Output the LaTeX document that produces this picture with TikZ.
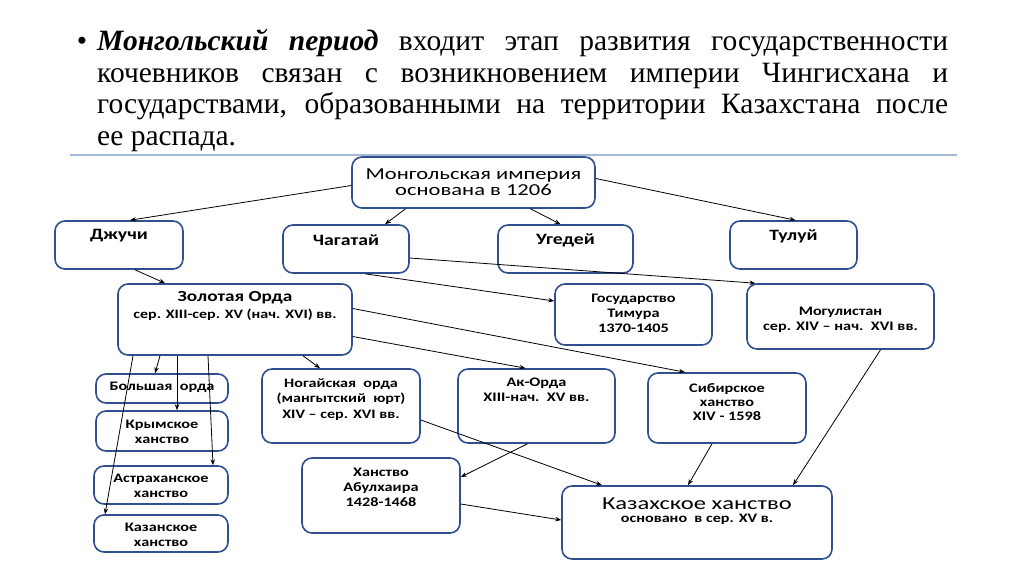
\documentclass[tikz,border=0pt]{standalone}
\usepackage{fontspec}
\setmainfont{Liberation Serif}
\newfontfamily\calfont[FakeStretch=1.25]{Carlito}
\newfontfamily\calwide[FakeStretch=1.35]{Carlito}
\usetikzlibrary{arrows.meta,calc}
\definecolor{boxblue}{HTML}{2F4F8F}
\definecolor{lineblue}{HTML}{A6BAD8}
\begin{document}
\begin{tikzpicture}[x=1pt,y=-1pt,
  box/.style={draw=boxblue, line width=1.6pt, rounded corners=10pt, fill=white, inner sep=0pt},
  lbl/.style={align=center, inner sep=0pt, font=\calfont\bfseries\fontsize{13}{15}\selectfont},
  hd/.style={lbl, font=\calfont\bfseries\fontsize{15.8}{16}\selectfont},
  arr/.style={-{Stealth[length=6pt,width=4.5pt]}, line width=0.8pt, black}]
\useasboundingbox (0,0) rectangle (1024,574);
\fill[white] (0,0) rectangle (1024,574);

% title text
\node[anchor=north west, inner sep=0pt, align=left, font=\fontsize{29.5}{31.5}\selectfont] (title) at (97,26.5)
{\rule{0pt}{24pt}\makebox[0pt][r]{•\hspace{10pt}}\makebox[851pt][s]{\textbf{\textit{Монгольский период}} входит этап развития государственности}\\
\makebox[851pt][s]{кочевников связан с возникновением империи Чингисхана и}\\
\makebox[851pt][s]{государствами, образованными на территории Казахстана после}\\
ее распада.};

\coordinate (tl1) at (70,155);
\coordinate (tl2) at (957,155);
\draw[lineblue, line width=2pt] (tl1) -- (tl2);

% boxes
\node[box, minimum width=243pt, minimum height=51pt] (mong) at (473.5,182.5) {};
\node[box, minimum width=128pt, minimum height=48pt] (dzh) at (119,245) {};
\node[box, minimum width=126pt, minimum height=48pt] (chag) at (346,249) {};
\node[box, minimum width=135pt, minimum height=48pt] (uged) at (565.5,249) {};
\node[box, minimum width=127pt, minimum height=48pt] (tul) at (793.5,245) {};
\node[box, minimum width=234pt, minimum height=71pt] (zol) at (235,319.5) {};
\node[box, minimum width=157pt, minimum height=61pt] (tim) at (633.5,314.5) {};
\node[box, minimum width=187pt, minimum height=65pt] (mog) at (840.5,316.5) {};
\node[box, minimum width=132pt, minimum height=29pt] (bol) at (162,388.5) {};
\node[box, minimum width=132pt, minimum height=40pt] (krym) at (162,431) {};
\node[box, minimum width=134pt, minimum height=38pt] (astr) at (161,485) {};
\node[box, minimum width=134pt, minimum height=37pt] (kaz) at (161,533.5) {};
\node[box, minimum width=158pt, minimum height=74pt] (nog) at (341,406) {};
\node[box, minimum width=157pt, minimum height=74pt] (ak) at (536.5,406) {};
\node[box, minimum width=158pt, minimum height=70pt] (sib) at (727,408) {};
\node[box, minimum width=158pt, minimum height=75pt] (abul) at (381,495.5) {};
\node[box, minimum width=270pt, minimum height=73pt] (kzh) at (697,522.5) {};

% labels
\node[lbl, font=\calwide\fontsize{16.7}{16}\selectfont] (mongT) at (473.5,182.6) {Монгольская империя\\основана в 1206};
\node[hd] (dzhT) at (119,236) {Джучи};
\node[hd] (chagT) at (346,240) {Чагатай};
\node[hd] (ugedT) at (565.5,240) {Угедей};
\node[hd] (tulT) at (793.5,236) {Тулуй};
\node[hd, font=\calfont\bfseries\fontsize{15.4}{16}\selectfont] (zolT1) at (235,298) {Золотая Орда};
\node[lbl, font=\calfont\bfseries\fontsize{12.8}{15}\selectfont] (zolT2) at (235,315) {сер. XIII-сер. XV (нач. XVI) вв.};
\node[lbl] (timT) at (633.5,313) {Государство\\Тимура\\1370-1405};
\node[lbl] (mogT) at (840.5,319.5) {Могулистан\\сер. XIV – нач.\ \ XVI вв.};
\node[lbl] (bolT) at (162,387) {Большая\ \ орда};
\node[lbl] (krymT) at (162,432) {Крымское\\ханство};
\node[lbl] (astrT) at (161,486) {Астраханское\\ханство};
\node[lbl] (kazT) at (161,534.5) {Казанское\\ханство};
\node[lbl, font=\calfont\bfseries\fontsize{12.9}{15.5}\selectfont] (nogT) at (341,399.5) {Ногайская\ \ орда\\(мангытский\ \ юрт)\\XIV – сер. XVI вв.};
\node[lbl] (akT) at (536.5,390) {Ак-Орда\\XIII-нач.\ \ XV вв.};
\node[lbl, font=\calfont\bfseries\fontsize{13}{14}\selectfont] (sibT) at (727,402) {Сибирское\\ханство\\XIV - 1598};
\node[lbl] (abulT) at (381,487.5) {Ханство\\Абулхаира\\1428-1468};
\node[lbl, font=\calwide\fontsize{18.2}{18}\selectfont] (kzhT1) at (697,503.5) {Казахское ханство};
\node[lbl, font=\calfont\bfseries\fontsize{12.9}{15}\selectfont] (kzhT2) at (697,519.5) {основано\ \ в сер. XV в.};

% connectors
\draw[arr] ($(mong.west)+(0,3)$) -- ($(dzh.north)+(11,0)$);
\draw[arr] ($(mong.south)+(-68,0)$) -- ($(chag.north)+(39,0)$);
\draw[arr] ($(mong.south)+(57,0)$) -- ($(uged.north)+(-5,0)$);
\draw[arr] ($(mong.east)+(0,-4)$) -- ($(tul.north)+(2,0)$);
\draw[arr] ($(dzh.south)+(16,0)$) -- ($(zol.north)+(-70,0)$);
\draw[arr] ($(chag.east)+(0,9)$) -- ($(mog.north)+(-85,0)$);
\draw[arr] ($(chag.south)+(19,0)$) -- ($(tim.west)+(0,-13.5)$);
\draw[arr] ($(zol.east)+(0,-11)$) -- ($(sib.north)+(-42,0)$);
\draw[arr] ($(zol.east)+(0,17)$) -- ($(ak.north)+(-11,0)$);
\draw[arr] ($(zol.south)+(68,0)$) -- ($(nog.north)+(-21,0)$);
\draw[arr] ($(zol.south)+(-75,0)$) -- ($(bol.north)+(-7,0)$);
\draw[arr] ($(zol.south)+(-58,0)$) -- ($(krym.north)+(15,0)$);
\draw[arr] ($(zol.south)+(-27,0)$) -- ($(astr.north)+(52,0)$);
\draw[arr] ($(zol.south)+(-102,0)$) -- ($(kaz.north)+(-56,0)$);
\draw[arr] ($(nog.east)+(0,14)$) -- ($(kzh.north)+(-95,0)$);
\draw[arr] ($(ak.south)+(-9,0)$) -- ($(abul.east)+(0,-18.5)$);
\draw[arr] ($(abul.east)+(0,8.5)$) -- ($(kzh.west)+(0,-2.5)$);
\draw[arr] ($(sib.south)+(-15,0)$) -- ($(kzh.north)+(-9,0)$);
\draw[arr] ($(mog.south)+(40,0)$) -- ($(kzh.north)+(96,0)$);
\end{tikzpicture}
\end{document}
